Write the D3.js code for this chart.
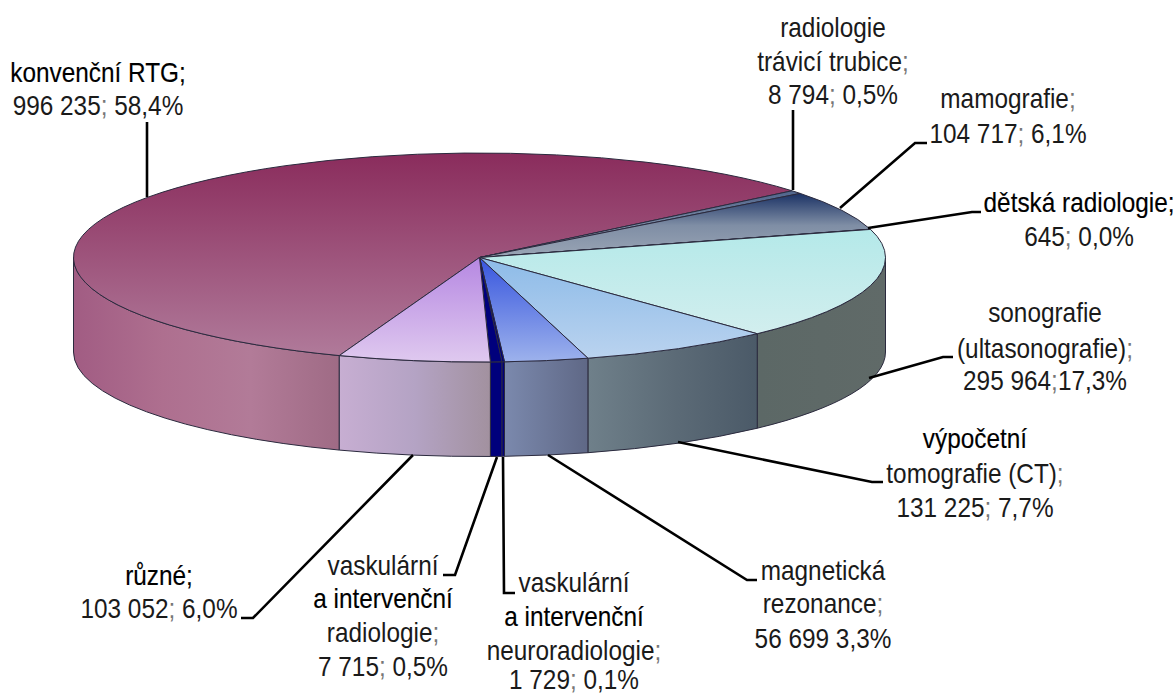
<!DOCTYPE html>
<html>
<head>
<meta charset="utf-8">
<script src="https://cdn.jsdelivr.net/npm/d3@7"></script>
<style>
  html, body { margin: 0; background: #fff; }
  text { font-family: "Liberation Sans", sans-serif; font-size: 28.5px; text-anchor: middle; }
</style>
</head>
<body>
<svg id="chart" width="1176" height="694"></svg>
<script>
const categories = ["konvenční RTG", "radiologie trávicí trubice", "mamografie", "dětská radiologie", "sonografie", "výpočetní tomografie", "magnetická rezonance", "neuroradiologie", "vaskulární radiologie", "různé"];
const values = [996235, 8794, 104717, 645, 295964, 131225, 56699, 1729, 7715, 103052];

const labelLines = [
  ["*konvenční RTG;", "996 235; 58,4%"],
  ["radiologie", "trávicí trubice;", "8 794; 0,5%"],
  ["mamografie;", "104 717; 6,1%"],
  ["*dětská radiologie;", "645; 0,0%"],
  ["sonografie", "(ultasonografie);", "295 964;17,3%"],
  ["*výpočetní", "tomografie (CT);", "131 225; 7,7%"],
  ["magnetická", "rezonance;", "56 699 3,3%"],
  ["vaskulární", "*a intervenční", "neuroradiologie;", "1 729; 0,1%"],
  ["vaskulární", "*a intervenční", "radiologie;", "7 715; 0,5%"],
  ["*různé;", "103 052; 6,0%"]
];

const topColors = [
  ["#8a2c5c", "#b07a9a"], ["#50658c", "#a0aebb"], ["#1b3265", "#7f8ea5", "#9aa5b5"], ["#8f9cae", "#8f9cae"],
  ["#b4e9e9", "#d2eeee"], ["#8dbbe8", "#bad3ef"], ["#3755de", "#9db2ec"], ["#00007c", "#00007c"],
  ["#00007c", "#00007c"], ["#b688e2", "#dfc9ef"]
];
const sideColors = [
  ["#a15c83", "#ae6f8f", "#b27b98", "#9f6b85"], ["#50658c", "#50658c"], ["#5d6966", "#5d6966"], ["#5d6966", "#5d6966"],
  ["#5c6866", "#606a68"], ["#6f808a", "#5c6b77", "#4b5a68"], ["#7b89ad", "#5f6886"], ["#00007c", "#00007c"],
  ["#00007c", "#00007c"], ["#c7aed2", "#b4a3c4", "#a2919f"]
];

// label block centres and leader lines, by slice
const labelPos = [
  { x: 98, y: [82, 115] },
  { x: 833, y: [37, 71, 104] },
  { x: 1008, y: [108, 143] },
  { x: 1079, y: [212, 246] },
  { x: 1045, y: [322, 358, 390] },
  { x: 975, y: [448, 483, 517] },
  { x: 823, y: [580, 613, 648] },
  { x: 574, y: [592, 626, 660, 689] },
  { x: 383, y: [575, 608, 642, 676] },
  { x: 159, y: [585, 618] }
];
const leaders = [
  [[147, 122], [147, 197]],
  [[793, 110], [793, 190]],
  [[840, 208], [915, 143], [927, 143]],
  [[868, 228], [972, 212], [981, 212]],
  [[869, 378], [943, 357], [953, 357]],
  [[678, 442], [872, 482], [883, 482]],
  [[548, 455], [747, 580], [757, 580]],
  [[503, 457], [504, 593], [515, 593]],
  [[497, 457], [455, 575], [443, 575]],
  [[413, 455], [253, 618], [241, 618]]
];

const cx = 479.5, cy = 257.5, rx = 406, ry = 104.5, depth = 94.5;
const edge = "#2b2a3e";
const textSquash = 0.855;
const startAngle = 200.2 * Math.PI / 180;

const svg = d3.select("#chart");
const defs = svg.append("defs");

const slices = d3.pie().sort(null).startAngle(startAngle).endAngle(startAngle + 2 * Math.PI)(values);

function addGradient(id, colors, horizontal) {
  const g = defs.append("linearGradient").attr("id", id)
    .attr("x1", 0).attr("y1", 0)
    .attr("x2", horizontal ? 1 : 0).attr("y2", horizontal ? 0 : 1);
  colors.forEach((c, i) => {
    g.append("stop").attr("offset", i / (colors.length - 1)).attr("stop-color", c);
  });
}

function rimX(a) { return cx + rx * Math.sin(a); }
function rimY(a) { return cy - ry * Math.cos(a); }

// wall of a slice: only the part between 90 and 270 degrees faces the viewer
function sidePath(d) {
  const turn = 2 * Math.PI;
  let a0 = d.startAngle, a1 = d.endAngle;
  if (a0 > turn) { a0 -= turn; a1 -= turn; }
  a0 = Math.max(a0, Math.PI / 2);
  a1 = Math.min(a1, 3 * Math.PI / 2);
  if (a1 <= a0) return null;
  const x0 = rimX(a0), y0 = rimY(a0), x1 = rimX(a1), y1 = rimY(a1);
  return `M${x0},${y0}A${rx},${ry} 0 0 1 ${x1},${y1}L${x1},${y1 + depth}A${rx},${ry} 0 0 0 ${x0},${y0 + depth}Z`;
}

slices.forEach((d, i) => {
  addGradient("top" + i, topColors[i], false);
  addGradient("side" + i, sideColors[i], true);
});

const gSide = svg.append("g");
gSide.selectAll("path")
  .data(slices.filter(d => sidePath(d)))
  .join("path")
  .attr("d", sidePath)
  .attr("fill", d => `url(#side${d.index})`)
  .attr("stroke", edge)
  .attr("stroke-width", 1);

const arc = d3.arc().innerRadius(0).outerRadius(rx);

const gTop = svg.append("g").attr("transform", `translate(${cx},${cy}) scale(1,${ry / rx})`);
gTop.selectAll("path")
  .data(slices)
  .join("path")
  .attr("d", arc)
  .attr("fill", d => `url(#top${d.index})`)
  .attr("stroke", edge)
  .attr("stroke-width", 1)
  .attr("vector-effect", "non-scaling-stroke");

const line = d3.line();
svg.append("g").selectAll("path")
  .data(leaders)
  .join("path")
  .attr("d", d => line(d))
  .attr("fill", "none")
  .attr("stroke", "#000")
  .attr("stroke-width", 2.6);

const gLabel = svg.append("g");
labelLines.forEach((lines, i) => {
  lines.forEach((raw, j) => {
    const strong = raw[0] === "*";
    const str = strong ? raw.slice(1) : raw;
    const t = gLabel.append("text")
      .attr("transform", `translate(${labelPos[i].x},${labelPos[i].y[j]}) scale(${textSquash},1)`)
      .attr("fill", strong ? "#000" : "#1a1a1a");
    if (strong) t.attr("stroke", "#000").attr("stroke-width", 0.15);
    str.split(/(;)/).filter(s => s).forEach(part => {
      t.append("tspan").attr("fill", part === ";" && !strong ? "#777" : null).text(part);
    });
  });
});
</script>
</body>
</html>
